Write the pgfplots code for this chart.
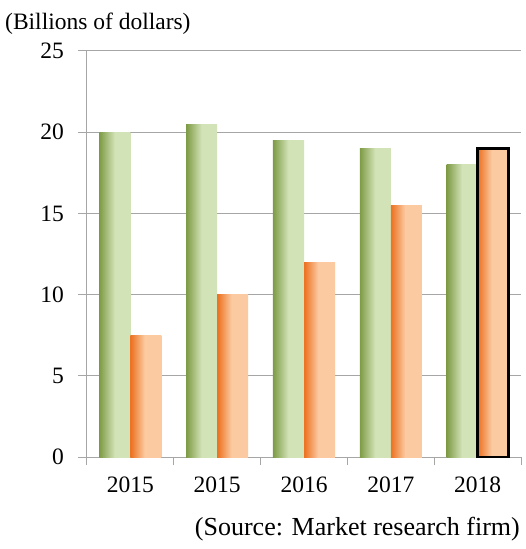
\documentclass[border=0pt]{standalone}
\usepackage{pgfplots}
\pgfplotsset{compat=1.18}
\usepackage{fontspec}
\setmainfont{Liberation Serif}

\definecolor{GridGray}{HTML}{A6A6A6}
\definecolor{GreenDark}{HTML}{7E9B45}
\definecolor{GreenLight}{HTML}{D3E3B8}
\definecolor{OrangeDark}{HTML}{EC7424}
\definecolor{OrangeLight}{HTML}{FBCAA1}

\pgfdeclarehorizontalshading{greenbar}{100bp}{color(0bp)=(GreenDark); color(25bp)=(GreenDark); color(50bp)=(GreenLight); color(75bp)=(GreenLight); color(100bp)=(GreenLight)}
\pgfdeclarehorizontalshading{orangebar}{100bp}{color(0bp)=(OrangeDark); color(26bp)=(OrangeDark); color(48bp)=(OrangeLight); color(75bp)=(OrangeLight); color(100bp)=(OrangeLight)}

\begin{document}
\fontsize{23.5}{28}\selectfont
\begin{tikzpicture}
  \useasboundingbox (-87pt,-92pt) rectangle (438pt,457pt);
  \begin{axis}[
    scale only axis, width=434pt, height=406pt,
    ybar, bar width=31pt,
    xmin=-0.5, xmax=4.5, ymin=0, ymax=25,
    xtick={0,...,4},
    xticklabels={2015,2015,2016,2017,2018},
    minor xtick={-0.5,0.5,...,4.5},
    ytick={0,5,...,25},
    axis x line*=bottom, axis y line*=left,
    axis line style={GridGray, line width=1pt, -},
    ymajorgrids, grid style={GridGray, line width=1pt},
    tick align=outside,
    major tick length=9pt, minor tick length=8pt,
    xtick style={draw=none},
    minor x tick style={draw=GridGray, line width=1pt},
    ytick style={GridGray, line width=1pt},
    /pgf/number format/assume math mode=true,
    ticklabel style={font=\fontsize{23.5}{28}\selectfont, black},
    yticklabel style={xshift=-6pt},
    xticklabel style={yshift=-3pt},
    green/.style={draw=none, shading=greenbar, bar shift=-15.5pt, forget plot},
    orange/.style={draw=none, shading=orangebar, bar shift=15.5pt, forget plot},
  ]
    % older product line (green)
    \addplot[green] coordinates {(0,20.0)};
    \addplot[green] coordinates {(1,20.5)};
    \addplot[green] coordinates {(2,19.5)};
    \addplot[green] coordinates {(3,19.0)};
    \addplot[green] coordinates {(4,18.0)};
    % newer product line (orange)
    \addplot[orange] coordinates {(0,7.5)};
    \addplot[orange] coordinates {(1,10.0)};
    \addplot[orange] coordinates {(2,12.0)};
    \addplot[orange] coordinates {(3,15.5)};
    \addplot[orange] coordinates {(4,19.0)};
    % highlighted forecast bar
    \addplot[draw=black, line width=3pt, fill=none, bar shift=15.5pt, forget plot] coordinates {(4,19.0)};
  \end{axis}
  \node[anchor=base west, inner sep=0pt] at (-82pt,427pt) {(Billions of dollars)};
  \node[anchor=base east, inner sep=0pt, font=\fontsize{26}{30}\selectfont] at (433pt,-78pt) {(Source: Market research firm)};
\end{tikzpicture}
\end{document}
